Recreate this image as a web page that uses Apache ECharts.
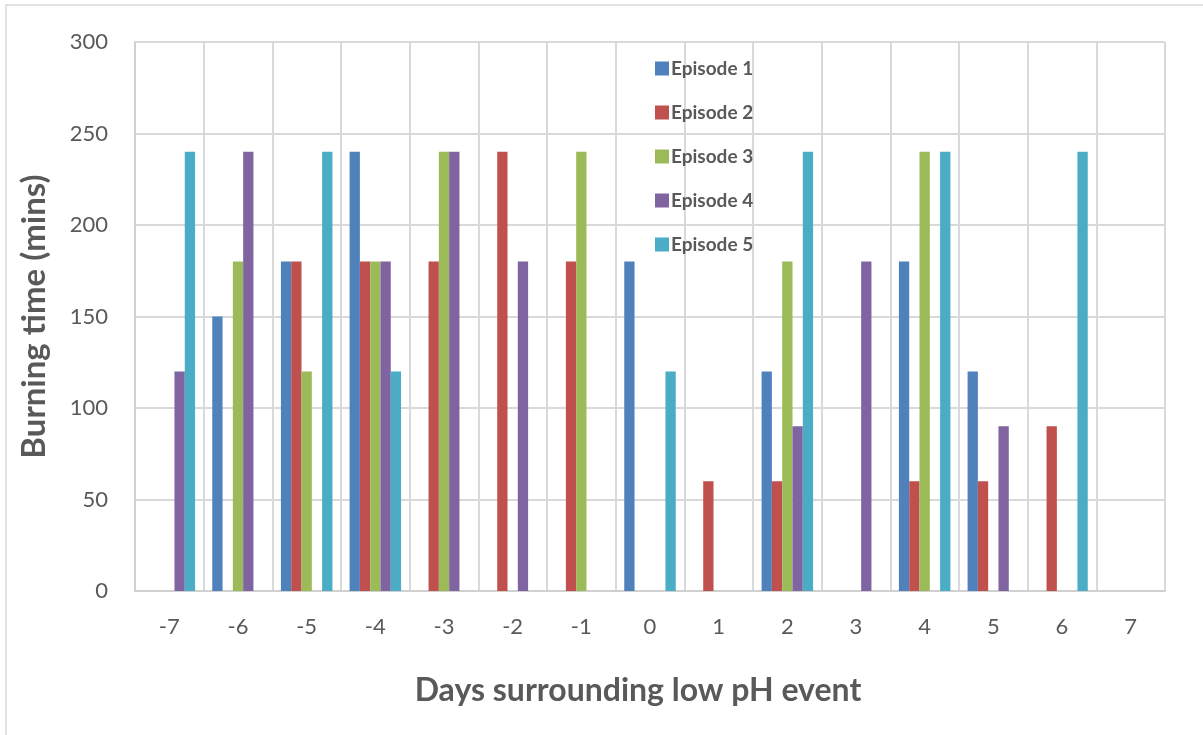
<!DOCTYPE html>
<html><head><meta charset="utf-8">
<script src="https://cdn.jsdelivr.net/npm/echarts@6/dist/echarts.min.js"></script>
<style>html,body{margin:0;padding:0;background:#fff}#c{width:1203px;height:735px}</style>
</head><body><div id="c"></div>
<script>
const categories = ['-7','-6','-5','-4','-3','-2','-1','0','1','2','3','4','5','6','7'];
const episode1 = [0,150,180,240,0,0,0,180,0,120,0,180,120,0,0];
const episode2 = [0,0,180,180,180,240,180,0,60,60,0,60,60,90,0];
const episode3 = [0,180,120,180,240,0,240,0,0,180,0,240,0,0,0];
const episode4 = [120,240,0,180,240,180,0,0,0,90,180,0,90,0,0];
const episode5 = [240,0,240,120,0,0,0,120,0,240,0,240,0,240,0];
const seriesNames = ['Episode 1','Episode 2','Episode 3','Episode 4','Episode 5'];
const colors = ['#4f81bd','#c0504d','#9bbb59','#8064a2','#4bacc6'];
const yTicks = {min:0,max:300,interval:50};

const font = 'Lato, "Open Sans", sans-serif';
const chart = echarts.init(document.getElementById('c'));
const data = [episode1,episode2,episode3,episode4,episode5];
chart.setOption({
  animation:false,
  color:colors,
  graphic:[{type:'rect',shape:{x:6,y:5,width:1300,height:800},style:{fill:'none',stroke:'#d9d9d9',lineWidth:1.5},silent:true,z:-1}],
  grid:{left:135,right:38,top:42,bottom:144},
  legend:{
    orient:'vertical',left:650,top:54,itemWidth:14,itemHeight:14,itemGap:25,
    icon:'rect',
    textStyle:{fontFamily:font,fontWeight:'bold',fontSize:19,lineHeight:14,color:'#595959',padding:[0,0,0,-3]},
    data:seriesNames
  },
  xAxis:{
    type:'category',data:categories,
    name:'Days surrounding low pH event',nameLocation:'middle',nameGap:84,
    nameTextStyle:{fontFamily:font,fontWeight:'bold',fontSize:32,color:'#595959',padding:[0,24,0,0]},
    axisLine:{lineStyle:{color:'#d0d0d0',width:2}},
    axisTick:{show:false},
    axisLabel:{fontFamily:font,fontSize:22,color:'#595959',margin:25},
    splitLine:{show:true,lineStyle:{color:'#d9d9d9',width:2}}
  },
  yAxis:{
    type:'value',min:yTicks.min,max:yTicks.max,interval:yTicks.interval,
    name:'Burning time (mins)',nameLocation:'middle',nameGap:84,
    nameTextStyle:{fontFamily:font,fontWeight:'bold',fontSize:33,color:'#595959'},
    axisLine:{show:true,lineStyle:{color:'#d0d0d0',width:2}},
    axisTick:{show:false},
    axisLabel:{fontFamily:font,fontSize:22,color:'#595959',margin:27},
    splitLine:{show:true,lineStyle:{color:'#d9d9d9',width:2}}
  },
  series:seriesNames.map((n,i)=>({
    name:n,type:'bar',data:data[i],barGap:'0%',barCategoryGap:'25%'
  }))
});
</script></body></html>
